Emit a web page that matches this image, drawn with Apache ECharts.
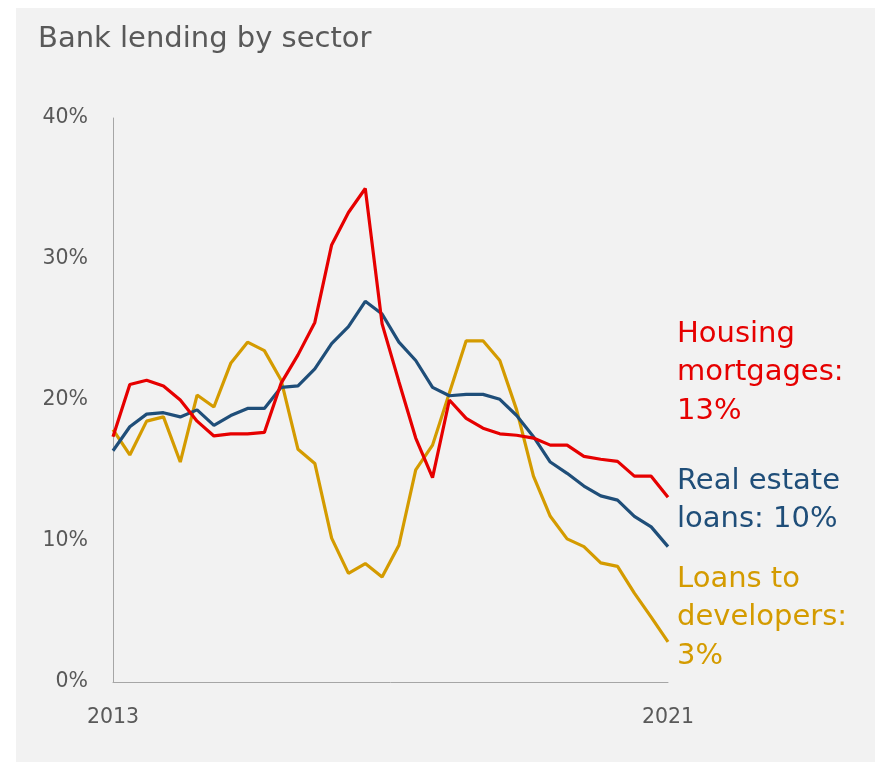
<!DOCTYPE html>
<html><head><meta charset="utf-8">
<script src="https://cdn.jsdelivr.net/npm/echarts@6/dist/echarts.min.js"></script>
<style>html,body{margin:0;padding:0;background:#fff}#c{width:879px;height:762px}</style>
</head><body><div id="c"></div>
<script>
const xLabels = ["2013","","","","","","","","","","","","","","","","","","","","","","","","","","","","","","","","","2021"];
const housingMortgages = [17.4,21.1,21.4,21.0,20.0,18.5,17.45,17.6,17.6,17.7,21.2,23.2,25.5,31.0,33.3,35.0,25.4,21.3,17.3,14.5,20.0,18.7,18.0,17.6,17.5,17.3,16.8,16.8,16.0,15.8,15.65,14.6,14.6,13.1];
const realEstateLoans = [16.4,18.1,19.0,19.1,18.8,19.3,18.2,18.9,19.4,19.4,20.9,21.0,22.2,24.0,25.2,27.0,26.1,24.1,22.8,20.9,20.3,20.4,20.4,20.05,18.9,17.4,15.6,14.8,13.9,13.2,12.9,11.75,11.0,9.6];
const loansToDevelopers = [17.9,16.1,18.5,18.8,15.6,20.35,19.5,22.6,24.1,23.5,21.4,16.5,15.5,10.2,7.7,8.4,7.45,9.7,15.05,16.8,20.5,24.2,24.2,22.8,19.3,14.6,11.75,10.15,9.6,8.45,8.2,6.3,4.6,2.85];
const yTicks = [0,10,20,30,40];

const RED='#e60000', BLUE='#1f4e79', GOLD='#d49b00';
const FONT='DejaVu Sans';
const chart = echarts.init(document.getElementById('c'), null, {renderer:'canvas'});
chart.setOption({
  animation:false,
  backgroundColor:'#ffffff',
  textStyle:{fontFamily:FONT},
  graphic:[
    {type:'rect', z:-10, shape:{x:16,y:8,width:859,height:754}, style:{fill:'#f2f2f2'}},
    {type:'text', left:677, top:315, style:{text:'Housing\nmortgages:\n13%', fill:RED, font:'29px '+FONT, lineHeight:38.5}},
    {type:'text', left:677, top:462, style:{text:'Real estate\nloans: 10%', fill:BLUE, font:'29px '+FONT, lineHeight:38.5}},
    {type:'text', left:677, top:560, style:{text:'Loans to\ndevelopers:\n3%', fill:GOLD, font:'29px '+FONT, lineHeight:38.5}}
  ],
  title:{text:'Bank lending by sector', left:33, top:20, textStyle:{fontFamily:FONT, fontSize:29, fontWeight:'normal', color:'#595959'}},
  grid:{left:113, right:211, top:118, bottom:80},
  xAxis:{type:'category', data:xLabels, boundaryGap:false,
    axisLine:{lineStyle:{color:'#a6a6a6', width:1}}, axisTick:{show:false},
    axisLabel:{interval:0, color:'#595959', fontSize:20.5, fontFamily:FONT, margin:25}},
  yAxis:{type:'value', min:yTicks[0], max:yTicks[yTicks.length-1], interval:10,
    axisLine:{show:true, lineStyle:{color:'#a6a6a6', width:1}}, axisTick:{show:false}, splitLine:{show:false},
    axisLabel:{formatter:'{value}%', color:'#595959', fontSize:20.5, fontFamily:FONT, margin:25}},
  series:[
    {name:'Loans to developers', type:'line', data:loansToDevelopers, showSymbol:false, lineStyle:{color:GOLD, width:3.2}, itemStyle:{color:GOLD}},
    {name:'Real estate loans', type:'line', data:realEstateLoans, showSymbol:false, lineStyle:{color:BLUE, width:3.2}, itemStyle:{color:BLUE}},
    {name:'Housing mortgages', type:'line', data:housingMortgages, showSymbol:false, lineStyle:{color:RED, width:3.2}, itemStyle:{color:RED}}
  ]
});
</script></body></html>
